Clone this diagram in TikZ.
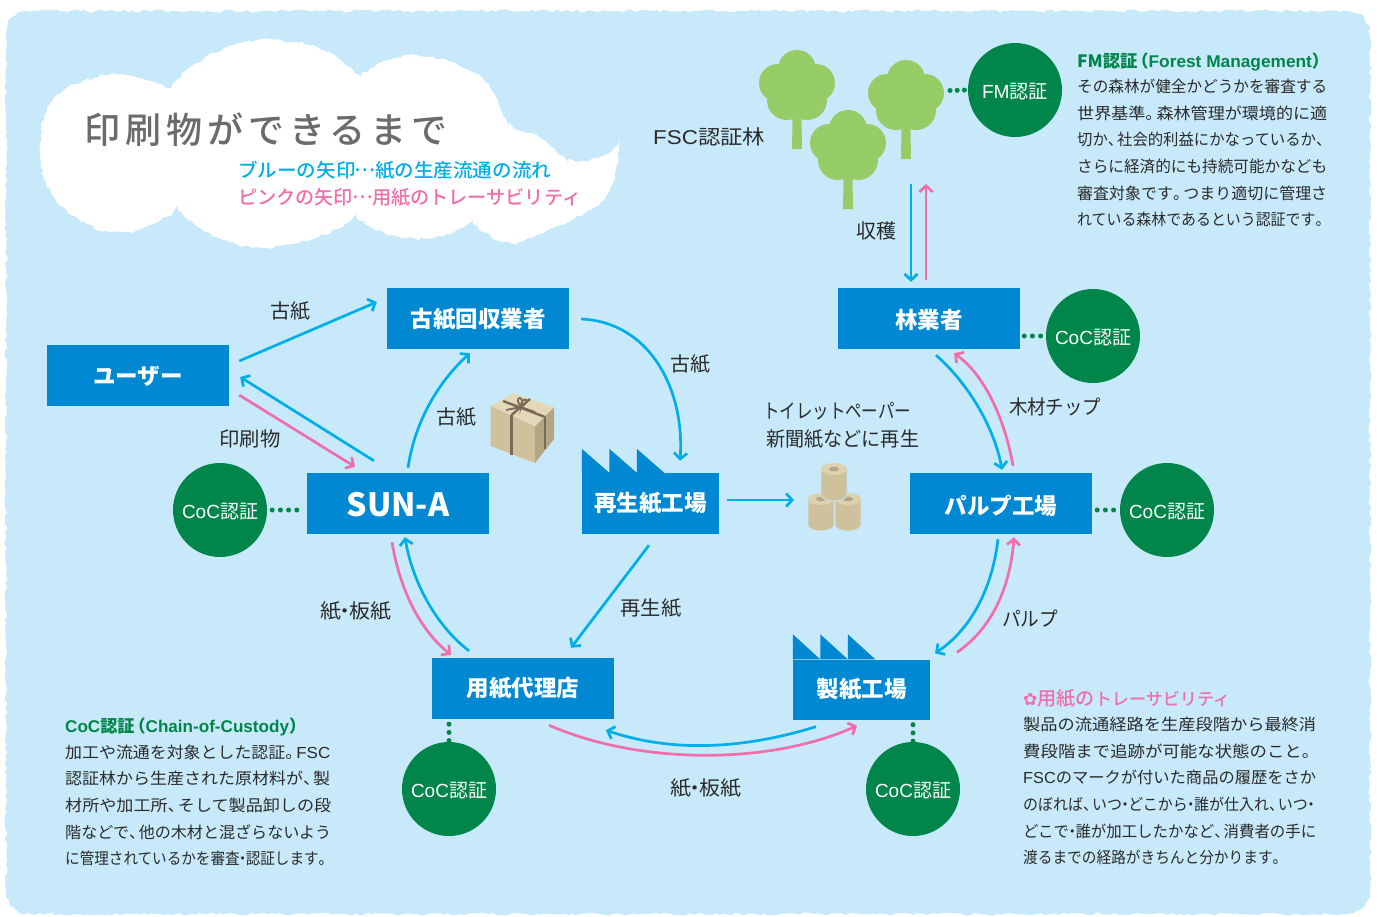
\documentclass[tikz,border=0pt]{standalone}
\usepackage{graphicx}
\usepackage{fontspec}
\setmainfont{Noto Sans CJK JP}
\newfontfamily\symfont{DejaVu Sans}
\newfontfamily\latinfont{Liberation Sans}
\newfontfamily\titlefont[LetterSpace=14]{Noto Sans CJK JP Medium}
\newfontfamily\legendfont{Noto Sans CJK JP Medium}
\usetikzlibrary{arrows.meta,decorations.pathmorphing,calc}
\definecolor{skybg}{HTML}{C7E9FA}
\definecolor{boxblue}{HTML}{0088D2}
\definecolor{certgreen}{HTML}{00854A}
\definecolor{flowblue}{HTML}{00AEE8}
\definecolor{flowpink}{HTML}{F06EAA}
\definecolor{leaf}{HTML}{95CC66}
\definecolor{inktext}{HTML}{2B2B2B}
\definecolor{kraftfront}{HTML}{CFC19C}
\definecolor{krafttop}{HTML}{E3D9B8}
\definecolor{kraftside}{HTML}{B5A683}
\definecolor{ribbon}{HTML}{7A6A58}
% Squeeze or stretch one line of text to a given width, keeping its height
\newcommand{\fitw}[2]{\resizebox{#1pt}{\height}{#2}}
\newcommand{\pxfont}[2]{\fontsize{#1}{#2}\selectfont}
% Lower a label inside its box without changing the box size
\newcommand{\dn}[2]{\raisebox{-#1pt}[\height][\depth]{#2}}
% Narrow punctuation as set in tightly spaced Japanese text
\newcommand{\nakag}{\makebox[.42em][c]{・}}
\newcommand{\touten}{\makebox[.6em][l]{、}}
\newcommand{\kuten}{\makebox[.65em][l]{。}}
\newcommand{\midots}{\makebox[1em][c]{\raisebox{.3em}{…}}}
\newcommand{\lparen}{\makebox[.65em][r]{（}}
\newcommand{\rparen}{\makebox[.65em][l]{）}}
\newcommand{\coc}{{\latinfont CoC}認証}
\tikzset{
  procbox/.style={fill=boxblue,text=white,minimum width=182pt,minimum height=61pt,inner sep=0pt,
    font=\pxfont{22.5}{26}\bfseries},
  factorybox/.style={procbox,minimum width=137pt},
  certdisc/.style={circle,fill=certgreen,text=white,minimum size=94pt,inner sep=0pt,font=\pxfont{19}{22}},
  dotlink/.style={certgreen,line width=5pt,line cap=round,dash pattern=on 0pt off 8.2pt},
  tipped/.style={line width=2.7pt,-{Straight Barb[length=6pt,width=13pt,line width=2.7pt]}},
  blueflow/.style={tipped,flowblue},
  pinkflow/.style={tipped,flowpink},
  caption/.style={inner sep=0pt,text=inktext,yshift=-1pt,font=\pxfont{20}{24}},
  para/.style={inner sep=0pt,anchor=north west,align=left,text=inktext,font=\pxfont{16}{26.6}},
  header/.style={inner sep=0pt,anchor=west,yshift=-1.5pt,font=\pxfont{17}{20}\bfseries,text=certgreen},
  roughedge/.style={decorate,decoration={random steps,segment length=4pt,amplitude=1.5pt}},
  fsctree/.pic={
    \fill[leaf] (-4.5,70) -- (-3.5,40) -- (3.5,40) -- (4.5,70) -- (5,99) -- (-5,99) -- cycle;
    \fill[leaf] (0,19) circle (19);
    \fill[leaf] (-19,33) circle (19);
    \fill[leaf] (19,33) circle (19);
    \fill[leaf] (-10,50) circle (20);
    \fill[leaf] (10,50) circle (20);
    \fill[leaf] (0,35) circle (18);
  },
  paperroll/.pic={
    \fill[kraftfront,draw=skybg,line width=.7pt] (-13,6) -- (-13,32) arc[x radius=13,y radius=6,start angle=180,end angle=0] -- (13,6) -- cycle;
    \fill[krafttop!70!kraftfront] (0,6) ellipse (13 and 6);
    \fill[kraftside] (0,6) ellipse (5 and 2.4);
  }
}
\begin{document}
\begin{tikzpicture}[x=1pt,y=-1pt]
\useasboundingbox (0,0) rectangle (1380,916);
\pgfmathsetseed{7}
\fill[white] (0,0) rectangle (1380,916);

% Sky panel with a torn paper edge
\fill[skybg,roughedge] (6,37) .. controls (6,20) and (15,11) .. (32,11) -- (1344,11)
  .. controls (1361,11) and (1370,20) .. (1370,37) -- (1370,888)
  .. controls (1370,905) and (1361,914) .. (1344,914) -- (32,914)
  .. controls (15,914) and (6,905) .. (6,888) -- cycle;

% Title cloud
\fill[white,roughedge]
  plot[smooth,tension=0.7] coordinates {(178,210) (143,228) (110,232) (78,218) (51,193) (40,147) (53,100) (94,78) (127,75) (171,89)}
  -- plot[smooth,tension=0.7] coordinates {(171,89) (196,63) (245,42) (294,42) (327,52) (361,76)}
  -- plot[smooth,tension=0.7] coordinates {(361,76) (392,59) (429,57) (469,70) (494,93) (508,128)}
  -- plot[smooth,tension=0.7] coordinates {(508,128) (531,133) (551,147) (569,163)}
  -- plot[smooth,tension=0.7] coordinates {(569,163) (600,157) (619,142)}
  -- plot[smooth,tension=0.7] coordinates {(619,142) (616,170) (604,200) (571,220) (531,238) (504,242) (473,224)}
  -- plot[smooth,tension=0.7] coordinates {(473,224) (433,238) (392,235) (357,218)}
  -- plot[smooth,tension=0.7] coordinates {(357,218) (318,237) (265,248) (216,237) (178,210)}
  -- cycle;
\node[inner sep=0pt,anchor=west,text=black!58] (maintitle) at (84,130) {\pxfont{36}{40}\titlefont 印刷物ができるまで};
\node[inner sep=0pt,anchor=west,text=flowblue] (legendblue) at (238,170) {\pxfont{19}{22}\legendfont\fitw{313}{ブルーの矢印\midots 紙の生産流通の流れ}};
\node[inner sep=0pt,anchor=west,text=flowpink] (legendpink) at (238,197) {\pxfont{19}{22}\legendfont\fitw{343}{ピンクの矢印\midots 用紙のトレーサビリティ}};

% FSC forest
\pic at (797,50) {fsctree};
\pic at (906,60) {fsctree};
\pic at (848,110) {fsctree};
\node[caption,anchor=west] (forestlabel) at (653,136) {\fitw{112}{{\latinfont FSC}認証林}};
\coordinate (forestedge) at (950,90.5);
\coordinate (forestarrowdown) at (911,184);
\coordinate (forestarrowup) at (926,184);

% Process boxes
\node[procbox] (user) at (138,375.5) {\dn{1}{ユーザー}};
\node[procbox] (collector) at (478,318.5) {\dn{1}{古紙回収業者}};
\node[procbox] (forester) at (929,318.5) {\dn{1.5}{林業者}};
\node[procbox,font=\pxfont{32}{36}\bfseries] (suna) at (398,503.5) {\dn{1.5}{SUN-A}};
\node[factorybox] (recycler) at (650.5,503.5) {再生紙工場};
\node[procbox] (pulp) at (1001,503.5) {\dn{2}{パルプ工場}};
\node[procbox] (agent) at (523,688.5) {用紙代理店};
\node[factorybox,minimum height=60pt] (mill) at (861.5,689.5) {製紙工場};

% Saw-tooth factory roofs
\fill[boxblue] (recycler.north west) -- ++(0,-24) -- ++(27.5,24) -- ++(0,-24) -- ++(27.5,24) -- ++(0,-24) -- ++(27.5,24) -- cycle;
\fill[boxblue] (mill.north west) -- ++(0,-25) -- ++(27.5,25) -- ++(0,-25) -- ++(27.5,25) -- ++(0,-25) -- ++(27.5,25) -- cycle;

% Certification discs and their dotted links
\node[certdisc] (fmdisc) at (1015,90) {\dn{2}{\fitw{66}{{\latinfont FM}認証}}};
\node[certdisc] (cocforester) at (1093,336) {\dn{2}{\fitw{76}{\coc}}};
\node[certdisc] (cocpulp) at (1167,510) {\dn{2}{\fitw{76}{\coc}}};
\node[certdisc] (cocsuna) at (220,510) {\dn{2}{\fitw{76}{\coc}}};
\node[certdisc] (cocagent) at (449,789) {\dn{2}{\fitw{76}{\coc}}};
\node[certdisc] (cocmill) at (913,789) {\dn{2}{\fitw{76}{\coc}}};
\draw[dotlink,dash pattern=on 0pt off 7.2pt] (forestedge) -- (fmdisc.west);
\draw[dotlink] ([xshift=4pt]forester.east |- cocforester.west) -- ([xshift=1pt]cocforester.west);
\draw[dotlink] ([xshift=5pt]pulp.east |- cocpulp.west) -- ([xshift=1pt]cocpulp.west);
\draw[dotlink] ([xshift=-10pt]suna.west |- cocsuna.east) -- ([xshift=-1pt]cocsuna.east);
\draw[dotlink] ([yshift=-5pt]agent.south -| cocagent.north) -- ([yshift=-1pt]cocagent.north);
\draw[dotlink] ([yshift=-5pt]mill.south -| cocmill.north) -- ([yshift=-1pt]cocmill.north);

% Gift-wrapped waste paper
\fill[kraftfront] (490.7,406) -- (535,426) -- (535,463) -- (490.7,446) -- cycle;
\fill[kraftside] (535,426) -- (554,407) -- (554,439) -- (535,463) -- cycle;
\fill[krafttop] (490.7,406) -- (513,393) -- (554,407) -- (535,426) -- cycle;
\draw[ribbon,line width=2.4pt] (511.5,415) -- (511.5,455) (545,417) -- (545,449);
\draw[ribbon,line width=2.4pt] (503,401) -- (545,417) (530,399) -- (511.5,415);
\draw[ribbon,line width=1.8pt] (521,407) .. controls (512,396) and (526,394) .. (521,407) .. controls (520,396) and (534,398) .. (521,407);
\draw[ribbon,line width=1.8pt] (521,407) -- (506,410) (521,407) -- (535,412);

% Paper rolls
\coordinate (rollsedge) at (794,500);
\pic at (821,493) {paperroll};
\pic at (848,493) {paperroll};
\pic at (834,463) {paperroll};

% Flow arrows
\draw[blueflow] ([shift={(10,-14.5)}]user.east) -- ([shift={(-10,-16.5)}]collector.west);
\draw[blueflow] ([shift={(12,0.5)}]collector.east) .. controls (650,322) and (685,390) .. ([shift={(29.5,-12)}]recycler.north);
\draw[blueflow] ([shift={(10,-5)}]suna.north) .. controls (415,420) and (440,380) .. ([shift={(-8,4)}]collector.south);
\draw[blueflow] ([shift={(-24,-12)}]suna.north) -- ([shift={(11,1.5)}]user.east);
\draw[pinkflow] ([shift={(10,19.5)}]user.east) -- ([shift={(-43,-6)}]suna.north);
\draw[blueflow] ([shift={(8,-3.5)}]recycler.east) -- (rollsedge);
\draw[blueflow] ([shift={(-1.5,11)}]recycler.south) -- ([shift={(48,-10)}]agent.north);
\draw[blueflow] ([shift={(-54,-7)}]agent.north) .. controls (435,625) and (412,580) .. ([shift={(7,3)}]suna.south);
\draw[pinkflow] ([shift={(-6,8)}]suna.south) .. controls (400,590) and (420,630) .. ([shift={(-72,-3)}]agent.north);
\draw[blueflow] ([shift={(-45.5,7)}]mill.south) .. controls (740,750) and (670,752) .. ([shift={(83,11)}]agent.south);
\draw[pinkflow] ([shift={(26,6)}]agent.south) .. controls (640,765) and (770,765) .. ([shift={(-4.5,6)}]mill.south);
\draw[blueflow] ([shift={(-3,5)}]pulp.south) .. controls (992,590) and (970,630) .. ([shift={(73.5,-6)}]mill.north);
\draw[pinkflow] ([shift={(95.5,-7)}]mill.north) .. controls (990,630) and (1010,590) .. ([shift={(13,3)}]pulp.south);
\draw[blueflow] ([shift={(7,6)}]forester.south) .. controls (970,385) and (995,430) .. ([shift={(1,-3)}]pulp.north);
\draw[pinkflow] ([shift={(12,-7)}]pulp.north) .. controls (1005,420) and (985,375) .. ([shift={(25,4)}]forester.south);
\draw[blueflow] (forestarrowdown) -- ([shift={(-18,-6)}]forester.north);
\draw[pinkflow] ([shift={(-3,-8)}]forester.north) -- (forestarrowup);

% Flow labels
\node[caption] (lblharvest) at (876,230) {収穫};
\node[caption] (lblwaste1) at (290,310) {古紙};
\node[caption] (lblwaste2) at (690,363) {古紙};
\node[caption] (lblwaste3) at (456,416) {古紙};
\node[caption] (lblprint) at (250,438) {\fitw{61}{印刷物}};
\node[caption] (lblboard1) at (356,610) {\fitw{72}{紙\nakag 板紙}};
\node[caption] (lblrecycled) at (651,607) {\fitw{61}{再生紙}};
\node[caption] (lblpulp) at (1030,618) {\fitw{56}{パルプ}};
\node[caption] (lblboard2) at (706,787) {\fitw{72}{紙\nakag 板紙}};
\node[caption] (lblchip) at (1055,406) {\fitw{92}{木材チップ}};
\node[caption,anchor=west] (lbltissue) at (763,410) {\fitw{148}{トイレットペーパー}};
\node[caption,anchor=west] (lblnews) at (766,438) {\fitw{153}{新聞紙などに再生}};

% Explanatory notes
\node[header] (fmhead) at (1077,60) {\fitw{246}{FM認証\lparen{\latinfont Forest Management}\rparen}};
\node[para] (fmnote) at (1077,79) {%
\fitw{250}{その森林が健全かどうかを審査する}\\
\fitw{250}{世界基準\kuten 森林管理が環境的に適}\\
\fitw{248}{切か\touten 社会的利益にかなっているか\touten}\\
\fitw{250}{さらに経済的にも持続可能かなども}\\
\fitw{250}{審査対象です\kuten つまり適切に管理さ}\\
\fitw{248}{れている森林であるという認証です\kuten}};

\node[header] (cochead) at (65,725) {\fitw{235}{{\latinfont CoC}認証\lparen{\latinfont Chain-of-Custody}\rparen}};
\node[para] (cocnote) at (65,744.5) {%
\fitw{265}{加工や流通を対象とした認証\kuten {\latinfont FSC}}\\
\fitw{265}{認証林から生産された原材料が\touten 製}\\
\fitw{266}{材所や加工所\touten そして製品卸しの段}\\
\fitw{266}{階などで\touten 他の木材と混ざらないよう}\\
\fitw{263}{に管理されているかを審査\nakag 認証します\kuten}};

\node[header,text=flowpink,font=\pxfont{19}{22}\legendfont] (tracehead) at (1023,697)
  {\fitw{207}{{\symfont\pxfont{17}{22}✿}用紙の{\pxfont{17}{22}トレーサビリティ}}};
\node[para] (tracenote) at (1023,717) {%
\fitw{293}{製品の流通経路を生産段階から最終消}\\
\fitw{290}{費段階まで追跡が可能な状態のこと\kuten}\\
\fitw{293}{{\latinfont FSC}のマークが付いた商品の履歴をさか}\\
\fitw{291}{のぼれば\touten いつ\nakag どこから\nakag 誰が仕入れ\touten いつ\nakag}\\
\fitw{293}{どこで\nakag 誰が加工したかなど\touten 消費者の手に}\\
\fitw{259}{渡るまでの経路がきちんと分かります\kuten}};
\end{tikzpicture}
\end{document}
